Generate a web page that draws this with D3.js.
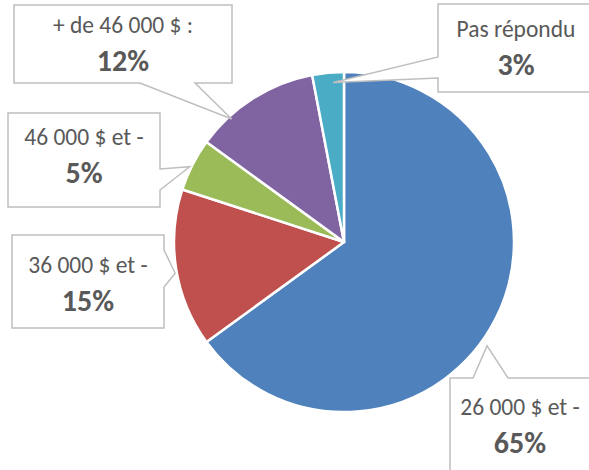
<!DOCTYPE html>
<html><head><meta charset="utf-8">
<script src="https://cdn.jsdelivr.net/npm/d3@7"></script>
<style>body{margin:0;background:#fff}svg{display:block}</style>
</head><body><svg id="c" width="589" height="470"></svg>
<script>
const categories = ["26 000 $ et -", "36 000 $ et -", "46 000 $ et -", "+ de 46 000 $ :", "Pas répondu"];
const values = [65, 15, 5, 12, 3];
const colors = ["#4F81BD", "#C0504D", "#9BBB59", "#8064A2", "#4BACC6"];

// callout layout (box rect, pointer side, pointer base, tip angle offset & radius factor, text centre & first baseline)
const callouts = [
  {box:[450,378,600,480], side:"top",    base:[473,508], dAng:9,   rf:1.04, tx:520, ty:415},
  {box:[12,235,164,328],  side:"right",  base:[250,287], dAng:-1.5,rf:1.01, tx:88,  ty:273},
  {box:[8,113,160,207],   side:"right",  base:[169,190], dAng:-1,  rf:1.01, tx:84,  ty:145},
  {box:[14,5,232,83],     side:"bottom", base:[140,195], dAng:-10, rf:0.98, tx:123, ty:33},
  {box:[438,4,596,92],    side:"left",   base:[57,78],   dAng:1.5, rf:0.94, tx:516, ty:37}
];

const svg = d3.select("#c");
const cx = 344, cy = 242, R = 170;
const g = svg.append("g").attr("transform", `translate(${cx},${cy})`);

const pie = d3.pie().sort(null).value(d => d)(values);
const arc = d3.arc().innerRadius(0).outerRadius(R);

g.selectAll("path.slice").data(pie).join("path")
  .attr("class","slice")
  .attr("d", arc)
  .attr("fill", (d,i) => colors[i])
  .attr("stroke", "#fff").attr("stroke-width", 2.5).attr("stroke-linejoin","round");

function tipPoint(d, c) {
  const a = (d.startAngle + d.endAngle) / 2 + c.dAng * Math.PI / 180;
  const r = R * c.rf;
  return [cx + r * Math.sin(a), cy - r * Math.cos(a)];
}

function calloutPath(c, tip) {
  const [x0,y0,x1,y1] = c.box;
  const [b0,b1] = c.base;
  const p = [[x0,y0]];
  if (c.side === "top") p.push([b0,y0], tip, [b1,y0]);
  p.push([x1,y0]);
  if (c.side === "right") p.push([x1,b0], tip, [x1,b1]);
  p.push([x1,y1]);
  if (c.side === "bottom") p.push([b1,y1], tip, [b0,y1]);
  p.push([x0,y1]);
  if (c.side === "left") p.push([x0,b1], tip, [x0,b0]);
  return "M" + p.map(q => q.join(",")).join("L") + "Z";
}

const lab = svg.append("g");
pie.forEach((d, i) => {
  const c = callouts[i];
  const tip = tipPoint(d, c);
  lab.append("path").attr("d", calloutPath(c, tip))
    .attr("fill", "#fff").attr("stroke", "#BFBFBF").attr("stroke-width", 1.5)
    .attr("stroke-linejoin","miter");
  const t = lab.append("text").attr("text-anchor","middle").attr("fill","#595959")
    .style("font-family","Carlito, Calibri, Lato, sans-serif");
  t.append("tspan").attr("x", c.tx).attr("y", c.ty).style("font-size","23.5px")
    .text(categories[i]);
  t.append("tspan").attr("x", c.tx).attr("y", c.ty + 38).style("font-size","30px").style("font-weight","bold")
    .text(d3.format(".0%")(values[i] / 100));
});
</script></body></html>
